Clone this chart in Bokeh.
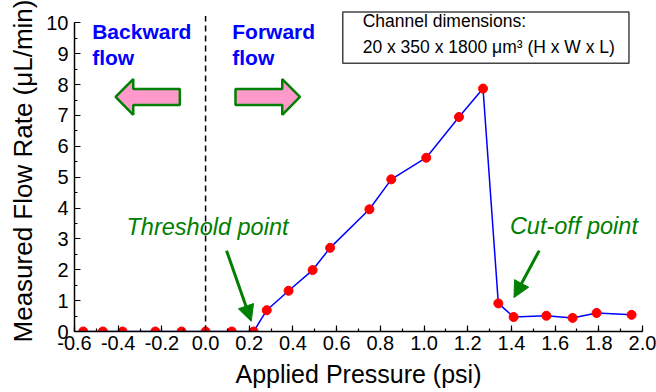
from bokeh.plotting import figure
from bokeh.models import (Range1d, FixedTicker, NumeralTickFormatter, Label,
                          Arrow, NormalHead, BoxAnnotation)
from bokeh.embed import file_html
from bokeh.resources import INLINE

# ---- data ----
pressure = [-0.56, -0.47, -0.38, -0.23, -0.11, 0.0, 0.12, 0.22, 0.28, 0.38,
            0.49, 0.57, 0.75, 0.85, 1.01, 1.16, 1.27, 1.34, 1.41, 1.56,
            1.68, 1.79, 1.95]
flow = [0, 0, 0, 0, 0, 0, 0, 0, 0.69, 1.32,
        1.99, 2.71, 3.96, 4.93, 5.63, 6.95, 7.87, 0.91, 0.47, 0.51,
        0.44, 0.60, 0.54]
x_ticks = [-0.6, -0.4, -0.2, 0.0, 0.2, 0.4, 0.6, 0.8, 1.0, 1.2, 1.4, 1.6, 1.8, 2.0]
y_ticks = [0, 1, 2, 3, 4, 5, 6, 7, 8, 9, 10]

FONT = "Liberation Sans"
GREEN = "#008000"

p = figure(width=656, height=392, output_backend="svg", toolbar_location=None,
           x_range=Range1d(-0.6, 2.0), y_range=Range1d(0, 10.4),
           min_border_left=74, min_border_right=14, min_border_top=10,
           min_border_bottom=61)
p.outline_line_color = None
p.grid.grid_line_color = None
p.background_fill_color = "white"

# axes
xa = p.xaxis[0]
xa.ticker = FixedTicker(ticks=x_ticks, minor_ticks=[round(-0.6 + 0.1 * i, 2) for i in range(27)])
xa.formatter = NumeralTickFormatter(format="0.0")
ya = p.yaxis[0]
ya.ticker = FixedTicker(ticks=y_ticks, minor_ticks=[0.5 * i for i in range(21)])
ya.bounds = (0, 10)
for ax in (xa, ya):
    ax.axis_line_width = 1.5
    ax.axis_line_color = "black"
    ax.major_tick_in = 6
    ax.major_tick_out = 0
    ax.minor_tick_in = 3
    ax.minor_tick_out = 0
    ax.major_tick_line_width = 1.2
    ax.minor_tick_line_width = 1.2
    ax.major_label_text_font = FONT
    ax.major_label_text_font_size = "20px"
    ax.major_label_text_color = "black"
    ax.axis_label_text_font = FONT
    ax.axis_label_text_font_style = "normal"
    ax.axis_label_text_color = "black"
xa.axis_label = "Applied Pressure (psi)"
xa.axis_label_text_font_size = "25px"
xa.major_label_standoff = 4
xa.axis_label_standoff = 7
ya.axis_label = "Measured Flow Rate (\u03bcL/min)"
ya.axis_label_text_font_size = "26px"
ya.major_label_standoff = 6
ya.axis_label_standoff = 5

# dashed divider at zero pressure
p.segment(x0=[0], y0=[0], x1=[0], y1=[10.22], line_color="black",
          line_width=1.5, line_dash="6 4")

# data series
p.line(pressure, flow, line_color="#0000FF", line_width=1.5)
p.scatter(pressure, flow, size=9, fill_color="#FF0000", line_color="#FF0000")

# flow-direction arrows (block shapes)
left_arrow_x = [-0.412, -0.331, -0.331, -0.118, -0.118, -0.331, -0.331]
left_arrow_y = [7.60, 8.18, 7.86, 7.86, 7.34, 7.34, 7.02]
right_arrow_x = [0.432, 0.351, 0.351, 0.137, 0.137, 0.351, 0.351]
p.patch(left_arrow_x, left_arrow_y, fill_color="#FF99CC", line_color=GREEN, line_width=2.5)
p.patch(right_arrow_x, left_arrow_y, fill_color="#FF99CC", line_color=GREEN, line_width=2.5)

# text labels
def add_label(x, y, text, size, color, style="normal"):
    p.add_layout(Label(x=x, y=y, text=text, text_font=FONT, text_font_size=size,
                       text_color=color, text_font_style=style,
                       text_baseline="alphabetic", text_align="left"))

add_label(-0.519, 9.72, "Backward", "21px", "#0000FF", "bold")
add_label(-0.519, 8.87, "flow", "21px", "#0000FF", "bold")
add_label(0.122, 9.72, "Forward", "21px", "#0000FF", "bold")
add_label(0.122, 8.87, "flow", "21px", "#0000FF", "bold")
add_label(-0.362, 3.38, "Threshold point", "23.5px", GREEN, "italic")
add_label(1.393, 3.42, "Cut-off point", "23.5px", GREEN, "italic")

# pointer arrows
p.add_layout(Arrow(x_start=0.096, y_start=2.62, x_end=0.209, y_end=0.33,
                   line_color=GREEN, line_width=3,
                   end=NormalHead(size=16, fill_color=GREEN, line_color=GREEN)))
p.add_layout(Arrow(x_start=1.527, y_start=2.62, x_end=1.412, y_end=1.10,
                   line_color=GREEN, line_width=3,
                   end=NormalHead(size=16, fill_color=GREEN, line_color=GREEN)))

# channel dimension box
p.add_layout(BoxAnnotation(left=0.628, right=1.938, bottom=8.69, top=10.35,
                           fill_color="white", fill_alpha=1.0,
                           line_color="#444444", line_width=1.5, line_alpha=1.0))
add_label(0.719, 10.07, "Channel dimensions:", "17.5px", "black")
add_label(0.719, 9.22, "20 x 350 x 1800 \u03bcm\u00b3 (H x W x L)", "17.5px", "black")

open("out.html", "w").write(file_html(p, INLINE))
